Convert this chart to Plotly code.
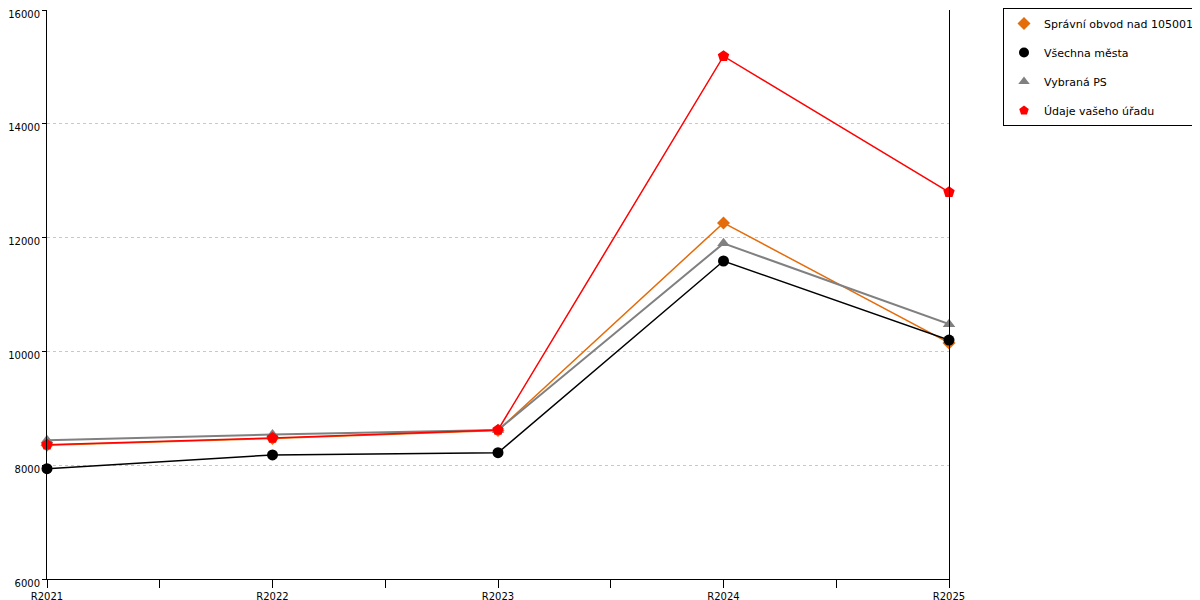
import plotly.graph_objects as go

# categories and series
years = ["R2021", "R2022", "R2023", "R2024", "R2025"]

spravni_obvod = [8350, 8470, 8610, 12260, 10150]
vsechna_mesta = [7940, 8180, 8220, 11590, 10200]
vybrana_ps = [8440, 8540, 8620, 11900, 10480]
udaje_uradu = [8360, 8480, 8620, 15190, 12800]

series = [
    ("Správní obvod nad 105001", spravni_obvod, "#e46c0a", "diamond", 10, 1.5),
    ("Všechna města", vsechna_mesta, "#000000", "circle", 11, 1.5),
    ("Vybraná PS", vybrana_ps, "#808080", "triangle-up", 11, 2),
    ("Údaje vašeho úřadu", udaje_uradu, "#ff0000", "pentagon", 12, 1.5),
]

xpos = list(range(len(years)))

fig = go.Figure()
for i, (name, vals, color, symbol, msize, lw) in enumerate(series):
    fig.add_trace(go.Scatter(
        x=xpos, y=vals, mode="lines+markers", name=name,
        line=dict(color=color, width=lw),
        marker=dict(color=color, symbol=symbol, size=msize),
        cliponaxis=False, showlegend=False, legendgroup=str(i),
    ))
    # legend entry showing only the marker, like the original
    fig.add_trace(go.Scatter(
        x=[None], y=[None], mode="markers", name=name,
        marker=dict(color=color, symbol=symbol, size=10),
        legendgroup=str(i),
    ))

# page body adds an 8px offset, margins are compensated for it
fig.update_layout(
    width=1200, height=600,
    margin=dict(l=39, r=259, t=2, b=29),
    paper_bgcolor="white", plot_bgcolor="white",
    font=dict(family="DejaVu Sans", size=11, color="#000000"),
    legend=dict(
        xref="container", yref="container",
        x=0.9925, y=1.0, xanchor="right", yanchor="top",
        bordercolor="#000000", borderwidth=1,
        font=dict(size=11), tracegroupgap=10, itemwidth=30,
    ),
    xaxis=dict(
        range=[0, 4], tickmode="array", tickvals=xpos, ticktext=years,
        showgrid=False, zeroline=False, showline=True, linecolor="#000000",
        linewidth=1, ticks="outside", ticklen=8, tickcolor="#000000",
        tickfont=dict(size=10), automargin=False,
        minor=dict(tickvals=[0.5, 1.5, 2.5, 3.5], ticks="outside",
                   ticklen=8, tickcolor="#000000", showgrid=False),
    ),
    yaxis=dict(
        range=[6000, 16002], dtick=2000, tick0=6000, tickformat="d",
        showgrid=True, gridcolor="#c8c8c8", griddash="dot", gridwidth=1,
        zeroline=False, showline=True, linecolor="#000000", linewidth=1,
        mirror=True, ticks="outside", ticklen=4, tickcolor="#000000",
        tickfont=dict(size=10), automargin=False, ticklabeloverflow="allow",
        ticklabelshift=4,
    ),
)

fig.write_html("out.html")
